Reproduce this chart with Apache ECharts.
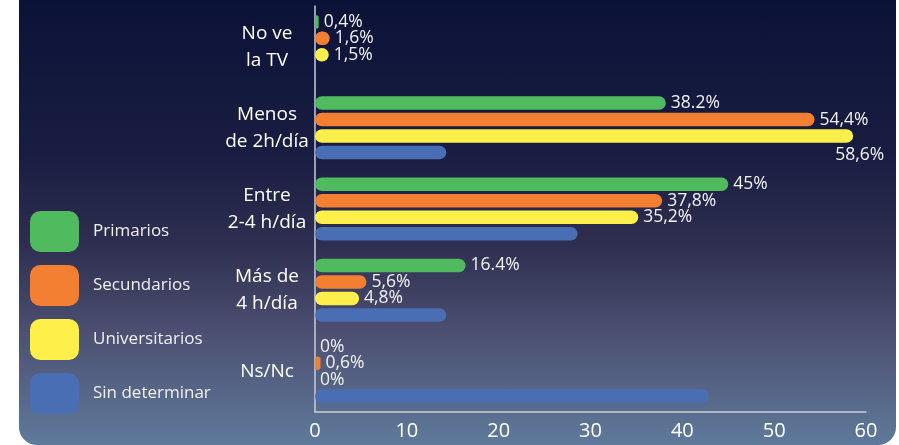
<!DOCTYPE html>
<html>
<head>
<meta charset="utf-8">
<script src="https://cdn.jsdelivr.net/npm/echarts@6/dist/echarts.min.js"></script>
<style>
  html, body { margin: 0; padding: 0; background: #ffffff; }
  .panel {
    position: absolute; left: 19px; top: 0; width: 877px; height: 445px;
    border-radius: 0 0 18px 18px;
    background: linear-gradient(to bottom, #0b1238 0%, #1a1d42 35%, #2e2f50 55%, #4d5072 75%, #5f7a9b 100%);
  }
  #chart { position: absolute; left: 0; top: 0; width: 899px; height: 445px; }
</style>
</head>
<body>
<div class="panel"></div>
<div id="chart"></div>
<script>
// categorías (eje vertical, de arriba a abajo)
var categorias = ['No ve\nla TV', 'Menos\nde 2h/día', 'Entre\n2-4 h/día', 'Más de\n4 h/día', 'Ns/Nc'];

// porcentajes por nivel de estudios
var primarios      = [0.4, 38.2, 45, 16.4, 0];
var secundarios    = [1.6, 54.4, 37.8, 5.6, 0.6];
var universitarios = [1.5, 58.6, 35.2, 4.8, 0];
var sinDeterminar  = [0, 14.3, 28.6, 14.3, 42.9];

// textos de las etiquetas tal cual aparecen
var etqPrimarios      = ['0,4%', '38.2%', '45%', '16.4%', '0%'];
var etqSecundarios    = ['1,6%', '54,4%', '37,8%', '5,6%', '0,6%'];
var etqUniversitarios = ['1,5%', '58,6%', '35,2%', '4,8%', '0%'];

var ticksX = [0, 10, 20, 30, 40, 50, 60];

var chart = echarts.init(document.getElementById('chart'));

var fuente = 'Open Sans';

function serie(nombre, valores, etiquetas, color) {
    return {
        name: nombre,
        type: 'bar',
        barWidth: 13.5,
        barGap: '22%',
        itemStyle: { color: color, borderRadius: 7 },
        label: {
            show: !!etiquetas,
            position: 'right',
            distance: 5,
            color: '#f2f2f2',
            fontFamily: fuente,
            fontSize: 17.5,
            formatter: function (p) { return etiquetas ? etiquetas[p.dataIndex] : ''; }
        },
        data: valores.map(function (v) { return { value: v }; })
    };
}

var sUni = serie('Universitarios', universitarios, etqUniversitarios, '#ffef4a');
// la etiqueta 58,6% va debajo del final de la barra
sUni.data[1].label = { offset: [-23, 19] };

var option = {
    backgroundColor: 'transparent',
    textStyle: { fontFamily: fuente },
    grid: { left: 315, right: 33, top: 6, bottom: 33, containLabel: false },
    legend: {
        orient: 'vertical',
        left: 30,
        top: 211,
        padding: 0,
        itemWidth: 49,
        itemHeight: 41,
        itemGap: 13,
        icon: 'roundRect',
        textStyle: { color: '#f0f0f0', fontFamily: fuente, fontSize: 17, padding: [0, 0, 0, 9] },
        data: ['Primarios', 'Secundarios', 'Universitarios', 'Sin determinar']
    },
    xAxis: {
        type: 'value',
        min: ticksX[0],
        max: ticksX[ticksX.length - 1],
        interval: 10,
        axisLine: { show: true, lineStyle: { color: '#c9ccd8', width: 1.5 } },
        axisTick: { show: false },
        splitLine: { show: false },
        axisLabel: { color: '#ffffff', fontFamily: fuente, fontSize: 20, margin: 9 }
    },
    yAxis: {
        type: 'category',
        inverse: true,
        data: categorias,
        axisLine: { show: true, lineStyle: { color: '#c9ccd8', width: 1.5 } },
        axisTick: { show: false },
        axisLabel: { color: '#ffffff', fontFamily: fuente, fontSize: 19, lineHeight: 27, align: 'center', margin: 48 }
    },
    series: [
        serie('Primarios', primarios, etqPrimarios, '#50ba5e'),
        serie('Secundarios', secundarios, etqSecundarios, '#f27f32'),
        sUni,
        serie('Sin determinar', sinDeterminar, null, '#4a6eb4')
    ]
};

chart.setOption(option);
</script>
</body>
</html>
